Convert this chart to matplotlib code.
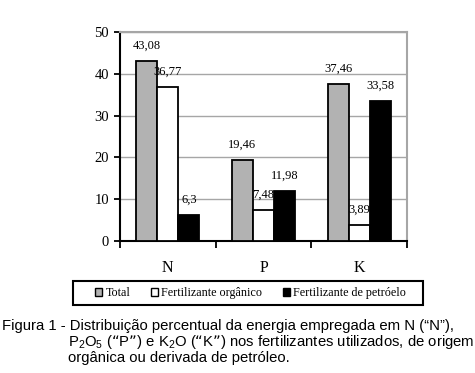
import matplotlib.pyplot as plt
import numpy as np
from matplotlib.patches import Patch, Rectangle

plt.rcParams['font.family'] = ['Liberation Serif', 'DejaVu Serif']

# dados
cats = ['N', 'P', 'K']
series = ['Total', 'Fertilizante orgânico', 'Fertilizante de petróelo']
total = [43.08, 19.46, 37.46]
organico = [36.77, 7.48, 3.89]
petroleo = [6.3, 11.98, 33.58]
lbl_total = ['43,08', '19,46', '37,46']
lbl_org = ['36,77', '7,48', '3,89']
lbl_pet = ['6,3', '11,98', '33,58']

cores = ['#b2b2b2', 'white', 'black']

fig = plt.figure(figsize=(4.75, 3.73), dpi=100)
ax = fig.add_axes([120 / 475, 1 - 241 / 373, 287 / 475, 209 / 373])

x = np.arange(len(cats))
w = 0.22
vals = [total, organico, petroleo]
lbls = [lbl_total, lbl_org, lbl_pet]
for k in range(3):
    xs = x + (k - 1) * w
    ax.bar(xs, vals[k], width=w, color=cores[k], edgecolor='black', lw=1.3, zorder=3)
    for xi, v, t in zip(xs, vals[k], lbls[k]):
        ax.annotate(t, xy=(xi, v), xytext=(0, 11), textcoords='offset points',
                    ha='center', va='center', fontsize=9, zorder=4)

ax.set_xlim(-0.5, 2.5)
ax.set_ylim(0, 50)
ax.set_yticks(range(0, 51, 10))
ax.yaxis.grid(True, color='#a6a6a6', lw=1, zorder=0)
ax.tick_params(axis='y', direction='out', length=4, width=1.3, labelsize=10.5, pad=4)

ax.set_xticks(x)
ax.set_xticklabels(cats, fontsize=11.5)
ax.tick_params(axis='x', which='major', length=0, pad=14)
ax.set_xticks([-0.5, 0.5, 1.5, 2.5], minor=True)
ax.tick_params(axis='x', which='minor', direction='out', length=5, width=1.3)

for s in ['left', 'bottom']:
    ax.spines[s].set_color('black')
    ax.spines[s].set_linewidth(1.5)
for s in ['top', 'right']:
    ax.spines[s].set_color('#a6a6a6')
    ax.spines[s].set_linewidth(1.5)

# legenda (caixa desenhada à parte)
fig.patches.append(Rectangle((73 / 475, 1 - 305 / 373), 350 / 475, 24 / 373,
                             transform=fig.transFigure, fill=False,
                             edgecolor='black', lw=1.5))
hs = [Patch(facecolor=c, edgecolor='black', lw=1) for c in cores]
leg = fig.legend(hs, series, loc='center left', bbox_to_anchor=(89 / 475, 1 - 293 / 373),
                 ncol=3, fontsize=8.7, handlelength=0.6, handleheight=0.6,
                 handletextpad=0.25, columnspacing=1.7, borderpad=0,
                 frameon=False)

# legenda da figura
cap = dict(family=['Liberation Sans', 'DejaVu Sans'], fontsize=10.7, va='baseline', ha='left')
fig.text(2 / 475, 1 - 330 / 373,
         'Figura 1 - Distribuição percentual da energia empregada em N (“N”),', **cap)
fig.text(68 / 475, 1 - 346 / 373,
         r'P$\mathregular{_2}$O$\mathregular{_5}$ (“P”) e K$\mathregular{_2}$O (“K”) nos fertilizantes utilizados, de origem',
         **cap)
fig.text(68 / 475, 1 - 362 / 373, 'orgânica ou derivada de petróleo.', **cap)

fig.savefig('out.png', dpi=100)
